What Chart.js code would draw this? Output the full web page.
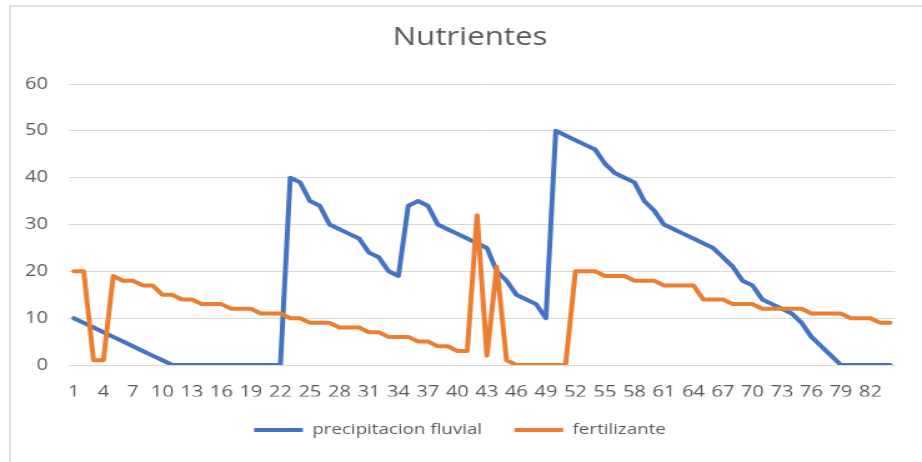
<!DOCTYPE html>
<html>
<head>
<meta charset="utf-8">
<script src="https://cdn.jsdelivr.net/npm/chart.js@4"></script>
<style>
  html, body { margin: 0; padding: 0; background: #fff; overflow: hidden; }
  #frame {
    position: absolute; left: 9px; top: 5px; width: 940px; height: 480px;
    border: 2px solid #e2e2e2;
  }
  /* the reference is a bit wider than tall, so draw narrow and stretch */
  #wrap {
    position: absolute; left: 0; top: 0; width: 738px; height: 462px;
    transform: scaleX(1.24932); transform-origin: 0 0;
  }
</style>
</head>
<body>
<div id="frame"></div>
<div id="wrap"><canvas id="lineChart"></canvas></div>
<script>
// Categories (days)
const categories = [
    1, 2, 3, 4, 5, 6, 7, 8, 9, 10, 11, 12, 13, 14, 15, 16, 17, 18, 19, 20, 21,
    22, 23, 24, 25, 26, 27, 28, 29, 30, 31, 32, 33, 34, 35, 36, 37, 38, 39, 40, 41, 42,
    43, 44, 45, 46, 47, 48, 49, 50, 51, 52, 53, 54, 55, 56, 57, 58, 59, 60, 61, 62, 63,
    64, 65, 66, 67, 68, 69, 70, 71, 72, 73, 74, 75, 76, 77, 78, 79, 80, 81, 82, 83, 84
];

// Series values
const precipitacion = [
    10, 9, 8, 7, 6, 5, 4, 3, 2, 1, 0,
    0, 0, 0, 0, 0, 0, 0, 0, 0, 0, 0,
    40, 39, 35, 34, 30, 29, 28, 27, 24, 23,
    20, 19, 34, 35, 34, 30, 29, 28, 27, 26,
    25, 20, 18, 15, 14, 13, 10, 50, 49, 48,
    47, 46, 43, 41, 40, 39, 35, 33, 30, 29,
    28, 27, 26, 25, 23, 21, 18, 17, 14, 13,
    12, 11, 9, 6, 4, 2,
    0, 0, 0, 0, 0, 0
];

const fertilizante = [
    20, 20, 1, 1, 19, 18, 18, 17, 17, 15, 15, 14, 14, 13, 13, 13, 12, 12, 12, 11, 11,
    11, 10, 10, 9, 9, 9, 8, 8, 8, 7, 7, 6, 6, 6, 5, 5, 4, 4, 3, 3,
    32, 2, 21, 1, 0, 0, 0, 0, 0, 0, 20, 20, 20, 19, 19, 19, 18, 18, 18,
    17, 17, 17, 17, 14, 14, 14, 13, 13, 13, 12, 12, 12, 12, 12,
    11, 11, 11, 11, 10, 10, 10, 9, 9
];

// Y axis ticks
const yTicks = [0, 10, 20, 30, 40, 50, 60];
// Every third category gets a label
const labelStep = 3;

const textColor = '#595959';
const gridColor = '#d9d9d9';
const fontFamily = "'Open Sans', 'Noto Sans', sans-serif";

// nudge the title a little to the right, like the original
const titleShift = {
    id: 'titleShift',
    afterLayout(chart) {
        chart.titleBlock.left += 8;
        chart.titleBlock.right += 8;
    }
};

const ctx = document.getElementById('lineChart').getContext('2d');
new Chart(ctx, {
    type: 'line',
    data: {
        labels: categories.map(String),
        datasets: [{
            label: 'precipitacion fluvial',
            data: precipitacion,
            borderColor: '#4472C4',
            backgroundColor: '#4472C4',
            borderWidth: 4,
            pointRadius: 0,
            tension: 0,
            borderJoinStyle: 'round',
            borderCapStyle: 'round',
            order: 1
        }, {
            label: 'fertilizante',
            data: fertilizante,
            borderColor: '#ED7D31',
            backgroundColor: '#ED7D31',
            borderWidth: 4,
            pointRadius: 0,
            tension: 0,
            borderJoinStyle: 'round',
            borderCapStyle: 'round',
            order: 0
        }]
    },
    plugins: [titleShift],
    options: {
        responsive: true,
        maintainAspectRatio: false,
        animation: false,
        layout: { padding: { left: 20, right: 21.6, top: 0, bottom: 14.5 } },
        plugins: {
            title: {
                display: true,
                text: 'Nutrientes',
                color: textColor,
                font: { family: fontFamily, size: 25, weight: 'normal' },
                padding: { top: 23, bottom: 31 }
            },
            legend: {
                position: 'bottom',
                labels: {
                    usePointStyle: true,
                    pointStyle: 'line',
                    pointStyleWidth: 39,
                    color: textColor,
                    font: { family: fontFamily, size: 15 },
                    padding: 26,
                    sort: (a, b) => a.datasetIndex - b.datasetIndex
                }
            },
            tooltip: { enabled: false }
        },
        scales: {
            x: {
                offset: true,
                grid: { display: false },
                border: { display: false },
                ticks: {
                    autoSkip: false,
                    maxRotation: 0,
                    minRotation: 0,
                    padding: 10,
                    color: textColor,
                    font: { family: fontFamily, size: 16 },
                    callback: function (value, index) {
                        return index % labelStep === 0 ? this.getLabelForValue(value) : '';
                    }
                },
                afterFit: function (scale) { scale.height = 31.5; }
            },
            y: {
                min: yTicks[0],
                max: yTicks[yTicks.length - 1],
                grid: { color: gridColor, lineWidth: 1, drawTicks: false },
                border: { display: false },
                ticks: {
                    stepSize: yTicks[1] - yTicks[0],
                    padding: 16.8,
                    color: textColor,
                    font: { family: fontFamily, size: 16 }
                },
                afterFit: function (scale) { scale.width = 35.2; }
            }
        }
    }
});
</script>
</body>
</html>
